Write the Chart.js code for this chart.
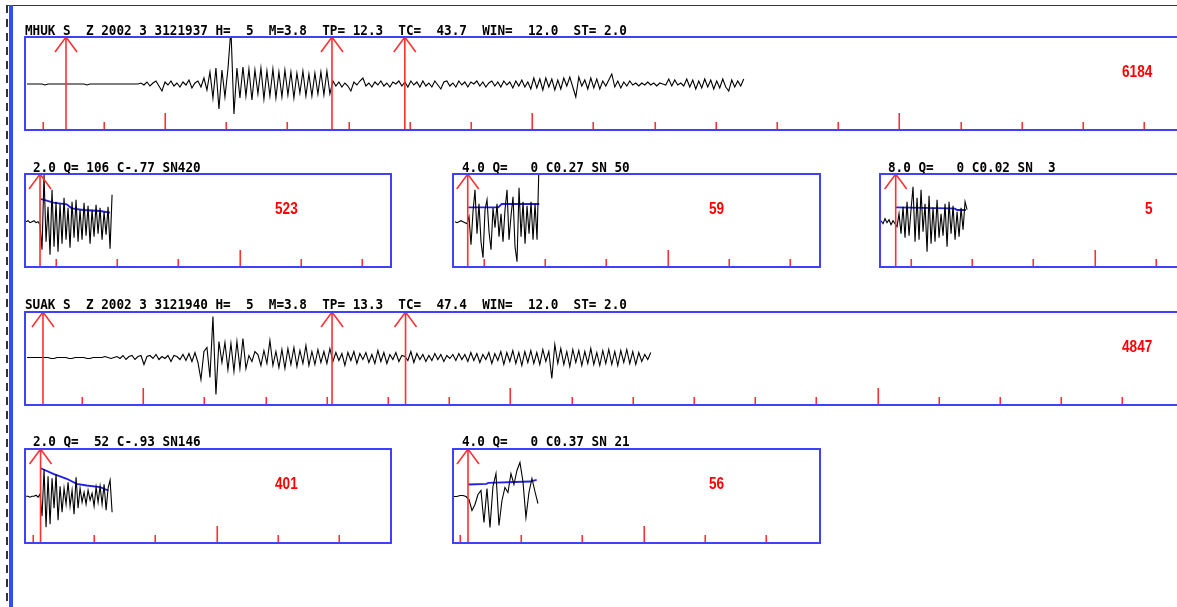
<!DOCTYPE html>
<html>
<head>
<meta charset="utf-8">
<script src="https://cdn.jsdelivr.net/npm/chart.js@4.4.0/dist/chart.umd.min.js"></script>
<style>
html, body { margin: 0; padding: 0; width: 1177px; height: 607px; overflow: hidden; background: #fff; }
#page { position: relative; width: 1177px; height: 607px; overflow: hidden; }
#page canvas { position: absolute; }
.line { position: absolute; }
.hdr { position: absolute; font: bold 14px "DejaVu Sans Mono", monospace; line-height: 14px; white-space: pre; color: #000;
       transform-origin: 0 0; transform: scaleX(0.904); }
.amp { position: absolute; font: bold 17px "Liberation Sans", sans-serif; line-height: 17px; white-space: pre; color: #ff0000;
       transform-origin: 0 0; transform: scaleX(0.8); }
</style>
</head>
<body>
<div id="page">
  <div class="line" style="left:6px;top:5px;width:1171px;height:1px;background:#333;"></div>
  <div class="line" style="left:6px;top:5px;width:1.5px;height:602px;background:repeating-linear-gradient(to bottom,#333 0 8px,transparent 8px 14px);"></div>
  <div class="line" style="left:8.5px;top:5px;width:4px;height:602px;background:#2f4ff2;"></div>
</div>
<script>
// time axis: one red tick per second, same pixel scale on every panel
var PX_PER_SEC = 61.2;

var mhukHeader = "MHUK S  Z 2002 3 3121937 H=  5  M=3.8  TP= 12.3  TC=  43.7  WIN=  12.0  ST= 2.0";
var suakHeader = "SUAK S  Z 2002 3 3121940 H=  5  M=3.8  TP= 13.3  TC=  47.4  WIN=  12.0  ST= 2.0";
var bandHeaders = ["2.0 Q= 106 C-.77 SN420", "4.0 Q=   0 C0.27 SN 50", "8.0 Q=   0 C0.02 SN  3",
                   "2.0 Q=  52 C-.93 SN146", "4.0 Q=   0 C0.37 SN 21"];
var ampLabels = ["6184", "523", "59", "5", "4847", "401", "56"];

// phase picks (s): S, TP, TC on the full traces, onset on the filtered ones
var mhukPicks = [0.384, 4.73, 5.92];
var suakPicks = [0.364, 5.087, 6.288];
var bandPicks = [-0.261, -0.266, -0.25, 0.123, 0.131];

// MHUK full trace, sample step 0.049 s
var mhukTrace = [
  0,0,0,0,0,0,-1,0,0,0, 0,0,0,0,0,0,0,0,0,0, -1,0,0,0,0,0,0,0,0,0, 0,0,0,0,0,0,0,0,
  1,-1,2,-2,1,3,-2,-7,2,-1, 3,-2,1,-3,2,-1,4,-4,1,3, -3,6,
  -6,12,-14,16,-25,14,-13,15,55,-30, 16,-14,17,-12,15,-16,14,-10,16,-15,
  13,-12,15,-14,12,-13,14,-11,12,-14, 11,-9,13,-12,10,-12,11,-10,12,-11, 13,-10,
  3,-2,2,-3,1,-2,-7,2,-1,3, 6,-2,1,-3,2,-1,3,-2,1,-3, 2,0,3,-2,2,-3,3,-1,2,-3,
  3,-2,1,-3,3,-1,-5,2,3,-2, 1,-3,3,-1,2,-3,2,0,3,-2, 2,-3,1,3,-2,2,-3,3,-1,2,
  -4,3,-2,4,-3,2,-5,6,-4,5, -6,6,-3,5,-6,4,-5,6,-2,7, -3,-13,7,-2,4,-5,6,-4,5,-5,
  3,-2,4,10,-3,3,-4,2,-2,3, -1,1,-2,1,-1,2,-1,1,-2,1, 0,-1,5,-2,4,-1,1,-2,5,-3,
  4,-5,3,-4,5,-3,4,-5,3,-4, 5,-3,-7,4,-3,3,-2,5
];
var mhukStart = -0.253, mhukStep = 0.049;

// SUAK full trace, sample step 0.049 s
var suakTrace = [
  0,0,0,0,0,0,0,0,-1,-1, 0,0,0,0,-1,-1,0,0,0,0, -1,-1,0,0,0,0,1,0,-1,0,
  1,-1,2,-2,1,2,-2,1,2,-7, 1,2,-1,3,-2,1,-1,2,-4,2, 1,-2,3,-3,4,-4,5,-5,-22,6,
  10,-20,41,-37,16,-5,15,-12,14,-14, 16,-11,19,-11,2,-4,6,3,-8,7,
  -6,17,-8,6,-10,8,-11,9,-7,10, -9,7,-6,12,-8,6,-7,8,-5,6, -6,9,-4,5,-3,4,-8,5,-3,6,
  -6,4,-2,5,-5,3,-6,7,-4,5, -6,3,-2,5,-4,2,1,-3,6,-5, 4,-2,3,-4,2,-3,4,-2,3,-4,
  2,-1,3,-3,4,-2,3,-4,5,-3, 4,-5,3,-2,5,-6,4,-3,6,-7, 5,-4,7,-6,5,-8,6,-5,7,-6,
  5,-7,8,-4,6,-21,13,-6,9,-7, 6,-9,8,-5,7,-8,6,-6,9,-7, 5,-8,7,-6,8,-7,6,-8,7,-5,
  8,-6,6,-7,5,-4,3,-2,5
];
var suakStart = 0.103, suakStep = 0.049;

// filtered bands, sample step 0.0327 s (last one 0.049 s)
var mhuk2Trace = [0,1,-1,0,1,-1,0,-3,-28,47, -20,15,-33,32,-25,20,-30,18,-22,24,
  -18,14,-26,20,-16,22,-20,12,-18,19, -14,16,-22,12,-15,17,-12,14,-18,10, -13,15,-27,27];
var mhuk4Trace = [0,-1,0,1,0,-1,-2,5,-23,10, 32,-12,18,-20,-36,12,22,-10,-28,14,
  -6,18,-15,8,-20,12,32,-18,6,25, -25,-40,34,-15,20,-22,16,-12,20,-18, 18,-18,60];
var mhuk8Trace = [1,-2,3,-1,2,-3,1,-2,-5,8, -12,15,-16,20,-14,12,35,-20,24,-18,
  32,-10,18,-30,26,-22,14,-20,22,-16, 8,-14,18,-25,20,-12,16,-18,10,-15, 14,-8,20,12];
var suak2Trace = [0,0,-1,0,0,1,-1,2,-20,27, -31,20,-28,18,-12,22,-24,10,-16,8,
  -8,14,-10,6,-18,19,-12,8,-6,4, -8,6,-4,3,-10,9,-6,10,-8,12, -14,8,16,-16];
var suak4Trace = [0,0,1,1,0,-3,-14,-8,2,6, -26,8,-31,10,23,-29,-4,9,4,23, 12,26,34,15,-21,4,18,5,-7];

// decay envelopes (s, amplitude)
var mhuk2EnvT = [-0.25, -0.152, -0.044, 0.175, 0.256, 0.446, 0.719, 0.882];
var mhuk2EnvV = [22.7, 21, 19, 17.4, 13.4, 11.7, 10.7, 9];
var mhuk4EnvT = [-0.257, 0.233, 0.289, 0.903];
var mhuk4EnvV = [14.4, 14.4, 17.7, 17.7];
var mhuk8EnvT = [-0.245, 0.637, 0.719, 0.752, 0.899];
var mhuk8EnvV = [14.3, 13.3, 13, 11.7, 11.7];
var suak2EnvT = [0.126, 0.332, 0.551, 0.714, 0.877, 1.095, 1.23];
var suak2EnvV = [28, 22.4, 17.4, 12.4, 10.7, 9, 5.7];
var suak4EnvT = [0.136, 0.436, 0.462, 1.144, 1.253];
var suak4EnvV = [12, 12.7, 13.7, 15, 16.7];

var page = document.getElementById('page');

var panels = [
  { left: 25, top: 37, width: 1157, height: 93, base: 47, t0: -0.286, tallAt: 2,
    trace: mhukTrace, start: mhukStart, step: mhukStep, picks: mhukPicks,
    header: mhukHeader, hx: 25, hy: 34.5, amp: ampLabels[0], ax: 1122, ay: 65 },
  { left: 25, top: 174, width: 366, height: 93, base: 47.7, t0: -0.5065, tallAt: 3,
    trace: mhuk2Trace, start: -0.49, step: 0.0327, envT: mhuk2EnvT, envV: mhuk2EnvV, picks: [bandPicks[0]],
    header: bandHeaders[0], hx: 33, hy: 171.5, amp: ampLabels[1], ax: 275, ay: 201.7 },
  { left: 453, top: 174, width: 367, height: 93, base: 47.7, t0: -0.5065, tallAt: 3,
    trace: mhuk4Trace, start: -0.474, step: 0.0327, envT: mhuk4EnvT, envV: mhuk4EnvV, picks: [bandPicks[1]],
    header: bandHeaders[1], hx: 462, hy: 171.5, amp: ampLabels[2], ax: 709, ay: 201.7 },
  { left: 880, top: 174, width: 302, height: 93, base: 47.7, t0: -0.5065, tallAt: 3,
    trace: mhuk8Trace, start: -0.49, step: 0.0327, envT: mhuk8EnvT, envV: mhuk8EnvV, picks: [bandPicks[2]],
    header: bandHeaders[2], hx: 888, hy: 171.5, amp: ampLabels[3], ax: 1145, ay: 201.7 },
  { left: 25, top: 312, width: 1157, height: 93, base: 45.5, t0: 0.07, tallAt: 2,
    trace: suakTrace, start: suakStart, step: suakStep, picks: suakPicks,
    header: suakHeader, hx: 25, hy: 309, amp: ampLabels[4], ax: 1122, ay: 340 },
  { left: 25, top: 448.5, width: 366, height: 94, base: 47.2, t0: -0.131, tallAt: 3,
    trace: suak2Trace, start: -0.114, step: 0.0327, envT: suak2EnvT, envV: suak2EnvV, picks: [bandPicks[3]],
    header: bandHeaders[3], hx: 33, hy: 445.5, amp: ampLabels[5], ax: 275, ay: 476.7 },
  { left: 453, top: 448.5, width: 367, height: 94, base: 47.5, t0: -0.114, tallAt: 3,
    trace: suak4Trace, start: -0.098, step: 0.049, envT: suak4EnvT, envV: suak4EnvV, picks: [bandPicks[4]],
    header: bandHeaders[4], hx: 462, hy: 445.5, amp: ampLabels[6], ax: 709, ay: 476.7 }
];

function frameFor(p) {
    return {
        id: 'seisFrame',
        afterDatasetsDraw: function (chart) {
            var ctx = chart.ctx;
            var area = chart.chartArea;
            var xs = chart.scales.x;
            ctx.save();
            ctx.strokeStyle = '#ff3030';
            ctx.lineWidth = 1.6;
            for (var t = Math.ceil(xs.min); t <= xs.max; t++) {
                var x = Math.round(xs.getPixelForValue(t)) + 0.25;
                var h = ((t - p.tallAt) % 6 === 0) ? 17 : 8;
                ctx.beginPath();
                ctx.moveTo(x, area.bottom);
                ctx.lineTo(x, area.bottom - h);
                ctx.stroke();
            }
            p.picks.forEach(function (t) {
                var x = xs.getPixelForValue(t);
                ctx.beginPath();
                ctx.moveTo(x, area.bottom);
                ctx.lineTo(x, area.top);
                ctx.moveTo(x - 11, area.top + 15);
                ctx.lineTo(x, area.top);
                ctx.lineTo(x + 11, area.top + 15);
                ctx.stroke();
            });
            ctx.strokeStyle = '#4040ff';
            ctx.lineWidth = 2;
            ctx.strokeRect(area.left, area.top, area.right - area.left, area.bottom - area.top);
            ctx.restore();
        }
    };
}

function addText(cls, text, x, top) {
    var d = document.createElement('div');
    d.className = cls;
    d.textContent = text;
    d.style.left = x + 'px';
    d.style.top = top + 'px';
    page.appendChild(d);
}

function drawPanel(p) {
    var pad = 3;
    var canvas = document.createElement('canvas');
    canvas.width = p.width + 2 * pad;
    canvas.height = p.height + 2 * pad;
    canvas.style.left = (p.left - pad) + 'px';
    canvas.style.top = (p.top - pad) + 'px';
    page.appendChild(canvas);

    var datasets = [{
        data: p.trace.map(function (v, i) { return { x: p.start + i * p.step, y: v }; }),
        borderColor: '#000',
        borderWidth: 1.1,
        pointRadius: 0,
        tension: 0
    }];
    if (p.envT) {
        datasets.push({
            data: p.envT.map(function (t, i) { return { x: t, y: p.envV[i] }; }),
            borderColor: '#2020e8',
            borderWidth: 1.8,
            pointRadius: 0,
            tension: 0
        });
    }

    new Chart(canvas, {
        type: 'line',
        data: { datasets: datasets },
        options: {
            responsive: false,
            animation: false,
            events: [],
            layout: { padding: pad },
            plugins: { legend: { display: false }, tooltip: { enabled: false } },
            scales: {
                x: { type: 'linear', display: false, min: p.t0, max: p.t0 + p.width / PX_PER_SEC },
                y: { type: 'linear', display: false, min: p.base - p.height, max: p.base }
            }
        },
        plugins: [frameFor(p)]
    });

    addText('hdr', p.header, p.hx, p.hy - 11.8);
    addText('amp', p.amp, p.ax, p.ay - 2.2);
}

panels.forEach(drawPanel);
</script>
</body>
</html>
